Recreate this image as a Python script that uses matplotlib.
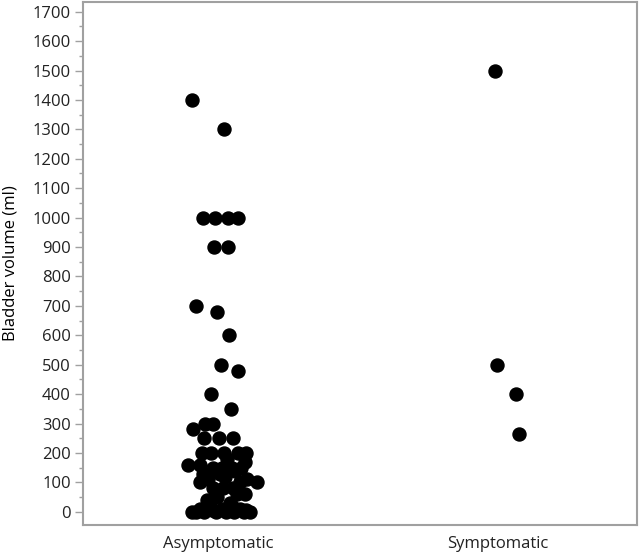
import numpy as np
import matplotlib.pyplot as plt
from matplotlib.ticker import MultipleLocator

# Group labels
groups = ['Asymptomatic', 'Symptomatic']

# Bladder volumes (ml), with the horizontal jitter of each dot
asym_volume = [1400, 1300, 1000, 1000, 1000, 1000, 900, 900, 700, 680, 600, 500, 480,
               400, 350, 300, 300, 280, 250, 250, 250, 200, 200, 200, 200, 200, 170,
               160, 160, 150, 150, 150, 150, 130, 130, 110, 110, 100, 100, 100, 80, 80,
               80, 60, 60, 50, 40, 30, 20, 10, 10, 10, 5, 0, 0, 0, 0, 0, 0, 0,
               180, 140, 120, 20, 10, 0, 5]
asym_jitter = [-0.093, 0.021, -0.054, -0.011, 0.036, 0.071, -0.014, 0.036, -0.079,
               -0.004, 0.039, 0.011, 0.071, -0.025, 0.046, -0.046, -0.018, -0.089,
               -0.05, 0.004, 0.054, -0.057, -0.025, 0.021, 0.071, 0.1, 0.096, -0.107,
               -0.064, -0.018, 0.014, 0.05, 0.082, -0.054, 0.007, -0.036, 0.104, -0.064,
               0.139, 0.079, -0.018, 0.018, 0.054, 0.068, 0.096, -0.004, -0.039, 0.043,
               -0.029, -0.064, 0.014, 0.079, -0.021, -0.079, -0.05, -0.007, 0.029,
               0.057, 0.093, 0.114,
               0.032, 0.061, 0.025, 0.05, -0.043, -0.093, 0.1]

sym_volume = [1500, 500, 400, 265]
sym_jitter = [-0.011, -0.004, 0.064, 0.075]

fig = plt.figure(figsize=(6.4, 5.53), dpi=100)
ax = fig.add_axes([0.130, 0.051, 0.865, 0.946])

font = ['Open Sans', 'DejaVu Sans']

ax.scatter(0 + np.array(asym_jitter), asym_volume, s=88, color='black', zorder=3)
ax.scatter(1 + np.array(sym_jitter), sym_volume, s=88, color='black', zorder=3)

ax.set_xlim(-0.482, 1.496)
ax.set_ylim(-44, 1734)
ax.set_xticks([0, 1])
ax.set_xticklabels(groups, fontsize=12, family=font)
ax.set_yticks(np.arange(0, 1701, 100))
ax.set_yticklabels([str(v) for v in range(0, 1701, 100)], fontsize=12, family=font)
ax.yaxis.set_minor_locator(MultipleLocator(50))
ax.set_ylabel('Bladder volume (ml)', fontsize=12, family=font, labelpad=10)

for sp in ax.spines.values():
    sp.set_color('#a0a0a0')
    sp.set_linewidth(1.5)
ax.tick_params(axis='y', which='major', length=6, color='#a0a0a0', width=1, pad=3,
               labelcolor='#222222')
ax.tick_params(axis='y', which='minor', length=3, color='#a0a0a0', width=1)
ax.tick_params(axis='x', length=0, pad=8, labelcolor='#222222')

fig.savefig('out.png', dpi=100)
